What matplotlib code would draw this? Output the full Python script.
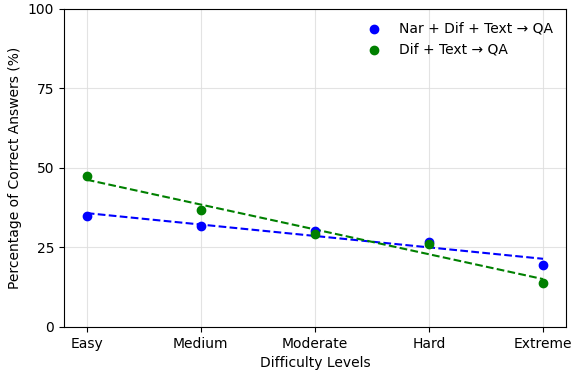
import numpy as np
import matplotlib
matplotlib.use("Agg")
import matplotlib.pyplot as plt

categories = ["Easy", "Medium", "Moderate", "Hard", "Extreme"]
nar_dif_text = [34.9, 31.8, 30.2, 26.7, 19.5]
dif_text = [47.5, 36.8, 29.2, 26.1, 13.8]
series_labels = ["Nar + Dif + Text → QA", "Dif + Text → QA"]
colors = ["blue", "green"]

fig, ax = plt.subplots(figsize=(5.71, 3.72), dpi=100)
fig.subplots_adjust(left=0.112, right=0.991, top=0.976, bottom=0.121)

x = np.arange(len(categories))
for vals, lab, c in zip([nar_dif_text, dif_text], series_labels, colors):
    ax.scatter(x, vals, color=c, label=lab, zorder=3)
    k, b = np.polyfit(x, vals, 1)
    ax.plot(x, k * x + b, linestyle="--", color=c, zorder=2)

ax.set_xticks(x)
ax.set_xticklabels(categories)
ax.set_ylim(0, 100)
ax.set_yticks([0, 25, 50, 75, 100])
ax.set_xlabel("Difficulty Levels")
ax.set_ylabel("Percentage of Correct Answers (%)")
ax.grid(True, color="#dddddd", linewidth=0.8, alpha=0.8)
ax.set_axisbelow(True)
ax.legend(frameon=False, loc="upper right")

fig.savefig("out.png", dpi=100)
